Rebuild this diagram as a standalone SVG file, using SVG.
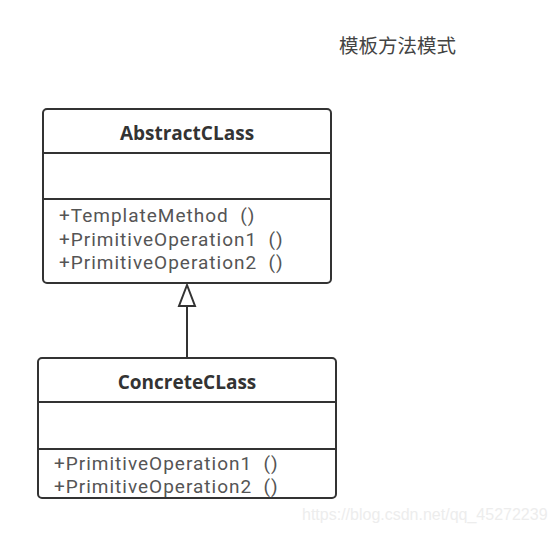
<svg xmlns="http://www.w3.org/2000/svg" width="555" height="534" viewBox="0 0 555 534">
<style>
.box{fill:#fff;stroke:#333;stroke-width:2}
.div{stroke:#333;stroke-width:2}
.title{font-family:"Open Sans","Noto Sans",sans-serif;font-weight:bold;font-size:19px;fill:#333;text-anchor:middle}
.m{font-family:Roboto,"Noto Sans",sans-serif;font-size:19px;fill:#555;white-space:pre;letter-spacing:1px}
.cap{font-family:"Noto Sans CJK SC",sans-serif;font-size:19.5px;fill:#444}
.wm{font-family:"Liberation Sans",Arial,sans-serif;font-size:16px;fill:#ededed}
</style>
<rect width="555" height="534" fill="#fff"/>
<text class="cap" x="339" y="53">模板方法模式</text>
<g id="AbstractCLass">
<rect class="box" x="43" y="109" width="288" height="174" rx="4"/>
<line class="div" x1="43" y1="153" x2="331" y2="153"/>
<line class="div" x1="43" y1="199" x2="331" y2="199"/>
<text class="title" x="187" y="140">AbstractCLass</text>
<text class="m" x="59" y="222">+TemplateMethod  ()</text>
<text class="m" x="59" y="246">+PrimitiveOperation1  ()</text>
<text class="m" x="59" y="269">+PrimitiveOperation2  ()</text>
</g>
<g id="ConcreteCLass">
<rect class="box" x="38" y="358" width="298" height="140" rx="4"/>
<line class="div" x1="38" y1="402" x2="336" y2="402"/>
<line class="div" x1="38" y1="449" x2="336" y2="449"/>
<text class="title" x="187" y="389">ConcreteCLass</text>
<text class="m" x="54" y="470">+PrimitiveOperation1  ()</text>
<text class="m" x="54" y="493">+PrimitiveOperation2  ()</text>
</g>
<g id="connectors">
<line x1="187" y1="358" x2="187" y2="306" stroke="#333" stroke-width="2"/>
<polygon points="187,285 179,306 195,306" fill="#fff" stroke="#333" stroke-width="2" stroke-linejoin="miter"/>
</g>
<text class="wm" x="302" y="520">https://blog.csdn.net/qq_45272239</text>
</svg>
